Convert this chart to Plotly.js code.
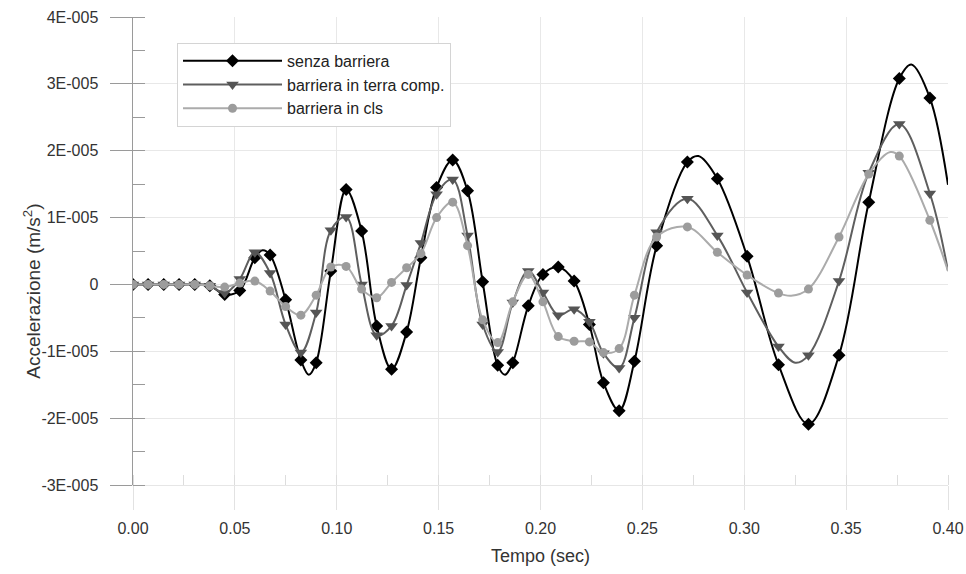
<!DOCTYPE html>
<html>
<head>
<meta charset="utf-8">
<script src="https://cdn.plot.ly/plotly-3.0.1.min.js"></script>
<style>
  html, body { margin: 0; padding: 0; background: #ffffff; }
  #chart { width: 966px; height: 574px; }
</style>
</head>
<body>
<div id="chart"></div>
<script>
// ---- data (accelerations in units of 1E-005 m/s^2) ----
const UNIT = 1e-5;

// times (s) of the plotted markers, shared by the three series
const tempo = [0, 0.0074, 0.0151, 0.0226, 0.0303, 0.0377, 0.0450, 0.0524, 0.0598, 0.0673,
               0.0749, 0.0824, 0.0899, 0.0971, 0.1046, 0.1122, 0.1196, 0.1269, 0.1343, 0.1413,
               0.1490, 0.1569, 0.1642, 0.1716, 0.1790, 0.1864, 0.1940, 0.2012, 0.2087, 0.2165,
               0.2240, 0.2309, 0.2386, 0.2461, 0.2570, 0.2721, 0.2868, 0.3014, 0.3168, 0.3315,
               0.3465, 0.3611, 0.3761, 0.3911];

const senzaBarriera = [0, 0, 0, 0, 0, -0.02, -0.15, -0.09, 0.40, 0.44,
                       -0.23, -1.13, -1.17, 0.20, 1.42, 0.80, -0.62, -1.27, -0.71, 0.40,
                       1.45, 1.86, 1.40, 0.04, -1.21, -1.17, -0.32, 0.15, 0.26, 0.05,
                       -0.60, -1.47, -1.89, -1.15, 0.58, 1.83, 1.58, 0.42, -1.20, -2.09,
                       -1.06, 1.23, 3.08, 2.79];

const barrieraTerra = [0, 0, 0, 0, 0, -0.02, -0.13, 0.08, 0.48, 0.17,
                       -0.60, -1.02, -0.42, 0.81, 1.01, 0.00, -0.76, -0.62, -0.01, 0.62,
                       1.35, 1.57, 0.73, -0.60, -1.01, -0.27, 0.20, -0.12, -0.46, -0.37,
                       -0.56, -1.03, -1.25, -0.50, 0.78, 1.28, 0.73, -0.12, -0.93, -1.06,
                       0.05, 1.67, 2.40, 1.36];

const barrieraCls = [0, 0, 0, 0, 0, -0.02, -0.04, 0.02, 0.05, -0.10,
                     -0.33, -0.46, -0.16, 0.26, 0.27, -0.07, -0.20, 0.03, 0.25, 0.46,
                     1.00, 1.23, 0.58, -0.53, -0.87, -0.26, 0.15, -0.26, -0.78, -0.85,
                     -0.86, -1.02, -0.96, -0.16, 0.71, 0.86, 0.48, 0.14, -0.13, -0.07,
                     0.71, 1.65, 1.92, 0.96];

// curve points without marker (extrema read between markers, last sample at 0.40 s)
const senzaCurvaT = [0.0636, 0.0863, 0.1826, 0.2775, 0.3820, 0.40];
const senzaCurvaV = [0.51, -1.35, -1.35, 1.92, 3.29, 1.49];
const terraCurvaT = [0.3250, 0.40];
const terraCurvaV = [-1.17, 0.20];
const clsCurvaT = [0.3230, 0.3717, 0.40];
const clsCurvaV = [-0.17, 1.98, 0.20];

const seriesNames = ['senza barriera', 'barriera in terra comp.', 'barriera in cls'];

const yTickVals = [-3, -2, -1, 0, 1, 2, 3, 4];
const yTickText = ['-3E-005', '-2E-005', '-1E-005', '0', '1E-005', '2E-005', '3E-005', '4E-005'];

// ---- build ----
function merge(t, v, ct, cv) {
  const pts = t.map((x, i) => ({x: x, y: v[i] * UNIT, m: true}));
  ct.forEach((x, i) => pts.push({x: x, y: cv[i] * UNIT, m: false}));
  pts.sort((a, b) => a.x - b.x);
  const sel = [];
  pts.forEach((p, i) => { if (p.m) sel.push(i); });
  return {x: pts.map(p => p.x), y: pts.map(p => p.y), sel: sel};
}

const s1 = merge(tempo, senzaBarriera, senzaCurvaT, senzaCurvaV);
const s2 = merge(tempo, barrieraTerra, terraCurvaT, terraCurvaV);
const s3 = merge(tempo, barrieraCls, clsCurvaT, clsCurvaV);

const FONT = 'Liberation Sans, Arial, sans-serif';

function makeTrace(name, s, lineColor, symbol, size, markerColor) {
  return {
    name: name, x: s.x, y: s.y, mode: 'lines+markers',
    line: {shape: 'spline', smoothing: 1, color: lineColor, width: 2},
    marker: {symbol: symbol, size: size, color: markerColor, line: {width: 0}},
    selectedpoints: s.sel,
    selected: {marker: {opacity: 1}},
    unselected: {marker: {opacity: 0}}
  };
}

const traces = [
  makeTrace(seriesNames[0], s1, '#000000', 'diamond', 10, '#000000'),
  makeTrace(seriesNames[1], s2, '#5e5e5e', 'triangle-down', 11, '#555555'),
  makeTrace(seriesNames[2], s3, '#ababab', 'circle', 9, '#9c9c9c')
];

const layout = {
  width: 966, height: 574,
  margin: {l: 133, r: 18, t: 17, b: 89},
  paper_bgcolor: '#ffffff', plot_bgcolor: '#ffffff',
  font: {family: FONT, size: 16, color: '#333333'},
  showlegend: true,
  legend: {
    x: 0.054, y: 0.945, xanchor: 'left', yanchor: 'top',
    bgcolor: '#ffffff', bordercolor: '#d4d4d4', borderwidth: 1,
    font: {family: FONT, size: 16, color: '#222222'},
    itemwidth: 99, itemsizing: 'trace', traceorder: 'normal'
  },
  xaxis: {
    range: [0, 0.40], tickmode: 'linear', tick0: 0, dtick: 0.05, tickformat: '.2f',
    ticks: 'outside', ticklen: 24, tickwidth: 1, tickcolor: '#e2e2e2',
    showgrid: true, gridcolor: '#e8e8e8', gridwidth: 1,
    zeroline: false, showline: true, linecolor: '#e6e6e6', linewidth: 1,
    minor: {ticks: 'inside', ticklen: 10, tickcolor: '#dddddd', dtick: 0.025, tick0: 0, showgrid: false},
    tickfont: {family: FONT, size: 16, color: '#333333'},
    ticklabelstandoff: 5,
    title: {text: 'Tempo (sec)', font: {family: FONT, size: 18, color: '#333333'}, standoff: 13},
    fixedrange: true
  },
  yaxis: {
    range: [-3 * UNIT, 4 * UNIT], tickmode: 'array',
    tickvals: yTickVals.map(v => v * UNIT), ticktext: yTickText,
    ticks: 'outside', ticklen: 22, tickwidth: 1, tickcolor: '#9a9a9a',
    showgrid: true, gridcolor: '#e8e8e8', gridwidth: 1,
    zeroline: false, showline: true, linecolor: '#9a9a9a', linewidth: 1.5,
    minor: {ticks: 'inside', ticklen: 12, tickcolor: '#9a9a9a', dtick: 0.5 * UNIT, tick0: 0, showgrid: false},
    tickfont: {family: FONT, size: 16, color: '#333333'},
    ticklabelstandoff: 8,
    fixedrange: true
  },
  annotations: [{
    text: 'Accelerazione (m/s<sup>2</sup>)', textangle: -90,
    xref: 'paper', yref: 'paper', x: -0.124, y: 0.415,
    xanchor: 'center', yanchor: 'middle', showarrow: false,
    font: {family: FONT, size: 19, color: '#333333'}
  }]
};

Plotly.newPlot('chart', traces, layout, {displayModeBar: false, staticPlot: true});
</script>
</body>
</html>
